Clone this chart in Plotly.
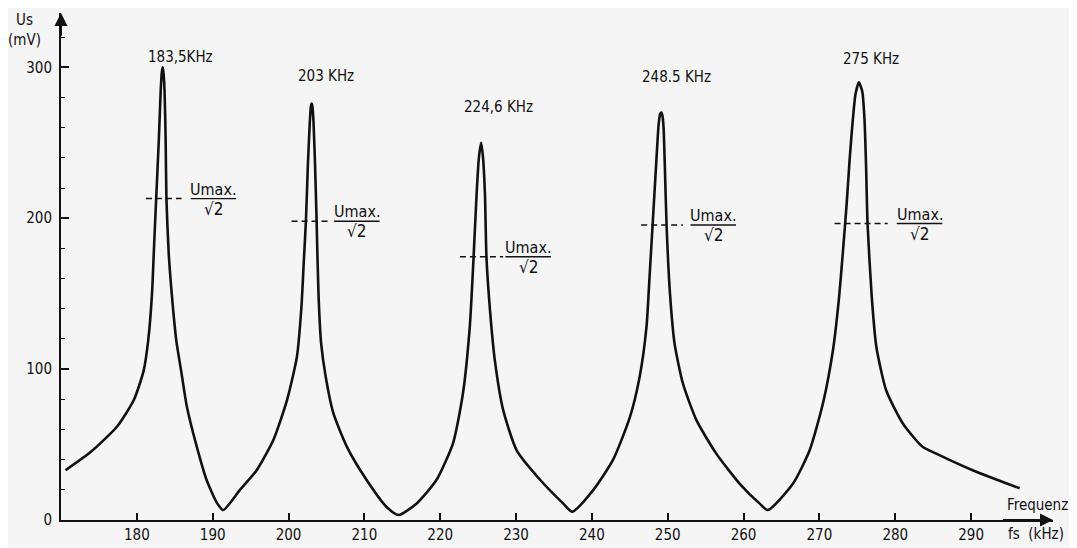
import plotly.graph_objects as go

# ---- data ----
freq_khz = [
    170.6, 173.9, 177.4, 179.6, 180.9, 181.5, 182.0, 182.3, 182.55, 182.9, 183.15, 183.3, 183.4,
    183.5, 183.65, 183.8, 183.9, 184.2, 184.6, 185.2, 185.9, 186.6, 187.9, 189.2, 190.6, 191.4,
    193.6, 195.8, 198.0, 199.8, 201.1, 201.7, 202.0, 202.3, 202.55, 202.8, 202.95, 203.05,
    203.15, 203.3, 203.5, 203.7, 203.95, 204.3, 204.9, 205.9, 207.7, 210.3, 212.9, 214.5,
    216.9, 219.5, 221.7, 223.0, 223.9, 224.4, 224.8, 225.1, 225.4, 225.65, 225.9, 226.1,
    226.6, 227.2, 228.3, 230.1, 233.2, 236.2, 237.4,
    240.2, 242.8, 245.0, 246.3, 247.2, 247.6, 248.0, 248.5, 248.8, 249.0, 249.15, 249.3,
    249.45, 249.6, 249.85, 250.3, 250.9, 252.0, 253.8, 256.4, 259.5, 262.1, 263.2,
    266.5, 268.7, 270.5, 271.8, 272.6, 273.15, 273.6, 274.0, 274.4, 274.75, 275.2, 275.65,
    275.95, 276.15, 276.35, 276.9, 277.5, 278.8, 281.0, 283.6, 285.4, 290.2, 296.4,
]
us_mv = [
    33, 45, 62, 79.5, 99, 119, 150, 185, 213, 252, 285, 297, 300,
    297, 285, 252, 213, 177, 150, 119, 97, 75, 48.6, 26.5, 11, 6.6,
    20, 33, 53, 79.5, 108, 141, 170, 199, 235, 263, 274, 276,
    274, 263, 235, 199, 150, 117, 95, 71, 48.5, 26.5, 8.8, 3.3,
    11, 26.5, 51, 84, 128, 174, 216, 240, 250, 240, 216, 174,
    137, 106, 73, 46, 26.5, 11, 5.5,
    20, 40, 68, 95, 128, 161, 195, 238, 262, 269, 270, 268,
    260, 238, 195, 150, 117, 90.5, 66, 44, 24, 11, 6.6,
    24, 46, 78, 113, 148, 181, 210, 240, 265, 282, 290, 284,
    265, 235, 196, 148, 115, 86, 64, 48.5, 44, 33, 21,
]

peak_labels = ["183,5KHz", "203 KHz", "224,6 KHz", "248.5 KHz", "275 KHz"]

# half-power (Umax/sqrt2) marker lines: start, end, level
half_x0 = [181.2, 200.4, 222.6, 246.5, 272.0]
half_x1 = [185.9, 205.3, 228.3, 252.0, 279.0]
half_lvl = [213, 198, 174.5, 195.5, 196.5]

x_ticks = [180, 190, 200, 210, 220, 230, 240, 250, 260, 270, 280, 290]
y_ticks = [0, 100, 200, 300]

# ---- layout-only positions ----
peak_label_pos = [(185.7, 307), (205.0, 294.5), (227.7, 273.5), (251.1, 293.5), (276.8, 305.5)]
frac_label_x = [190.1, 209.0, 231.6, 256.0, 283.2]
FRAC_HALF = 3.0

FONT = "DejaVu Sans Condensed, DejaVu Sans, sans-serif"
INK = "#111111"

fig = go.Figure()

fig.add_trace(go.Scatter(
    x=freq_khz, y=us_mv, mode="lines",
    line=dict(color=INK, width=2.6, shape="spline", smoothing=0.6),
    hoverinfo="skip", showlegend=False,
))

for x0, x1, lv in zip(half_x0, half_x1, half_lvl):
    fig.add_trace(go.Scatter(
        x=[x0, x1], y=[lv, lv], mode="lines",
        line=dict(color=INK, width=1.5, dash="6px,4px"),
        hoverinfo="skip", showlegend=False,
    ))

annotations = []
for (lx, ly), txt in zip(peak_label_pos, peak_labels):
    annotations.append(dict(x=lx, y=ly, xref="x", yref="y", text=txt, showarrow=False,
                            xanchor="center", yanchor="middle",
                            font=dict(family=FONT, size=15, color=INK)))

for fx, lv in zip(frac_label_x, half_lvl):
    fig.add_trace(go.Scatter(
        x=[fx - FRAC_HALF, fx + FRAC_HALF], y=[lv, lv], mode="lines",
        line=dict(color=INK, width=1.4), hoverinfo="skip", showlegend=False,
    ))
    annotations.append(dict(x=fx, y=lv, xref="x", yref="y", text="Umax.", showarrow=False,
                            xanchor="center", yanchor="bottom", yshift=-2,
                            font=dict(family=FONT, size=16, color=INK)))
    annotations.append(dict(x=fx, y=lv, xref="x", yref="y", text="√2", showarrow=False,
                            xanchor="center", yanchor="top", yshift=2,
                            font=dict(family=FONT, size=17, color=INK)))

# axis arrow heads
annotations.append(dict(x=300.8, y=0, ax=294, ay=0, xref="x", yref="y", axref="x", ayref="y",
                        text="", showarrow=True, arrowhead=2, arrowsize=1.3, arrowwidth=2,
                        arrowcolor=INK, standoff=0))
annotations.append(dict(x=170, y=336, ax=170, ay=320, xref="x", yref="y", axref="x", ayref="y",
                        text="", showarrow=True, arrowhead=2, arrowsize=1.3, arrowwidth=2,
                        arrowcolor=INK, standoff=0))

# axis titles (paper coords; plot area spans px 61..1053 x 13..520 on screen)
annotations.append(dict(x=-0.037, y=0.987, xref="paper", yref="paper", text="Us",
                        showarrow=False, xanchor="center", yanchor="middle",
                        font=dict(family=FONT, size=15, color=INK)))
annotations.append(dict(x=-0.037, y=0.946, xref="paper", yref="paper", text="(mV)",
                        showarrow=False, xanchor="center", yanchor="middle",
                        font=dict(family=FONT, size=15, color=INK)))
annotations.append(dict(x=0.984, y=0.029, xref="paper", yref="paper", text="Frequenz",
                        showarrow=False, xanchor="center", yanchor="middle",
                        font=dict(family=FONT, size=15, color=INK)))
annotations.append(dict(x=0.983, y=-0.028, xref="paper", yref="paper", text="fs  (kHz)",
                        showarrow=False, xanchor="center", yanchor="middle",
                        font=dict(family=FONT, size=15, color=INK)))

# page body has an 8px margin: size the figure so it fits the 1077x548 window
fig.update_layout(
    width=1069, height=540,
    margin=dict(l=53, r=24, t=5, b=28),
    paper_bgcolor="#f5f5f5", plot_bgcolor="#f5f5f5",
    showlegend=False,
    annotations=annotations,
    font=dict(family=FONT, size=15, color=INK),
    xaxis=dict(
        range=[170, 300.8], tickvals=x_ticks, ticktext=[str(v) for v in x_ticks],
        ticks="inside", ticklen=7, tickwidth=1.6, tickcolor=INK,
        showline=True, linecolor=INK, linewidth=2, showgrid=False, zeroline=False,
        tickfont=dict(family=FONT, size=15, color=INK), fixedrange=True,
    ),
    yaxis=dict(
        range=[0, 336], tickvals=y_ticks, ticktext=[str(v) for v in y_ticks],
        ticks="inside", ticklen=8, tickwidth=1.6, tickcolor=INK,
        minor=dict(dtick=20, tick0=0, ticks="inside", ticklen=4, tickwidth=1.3, tickcolor=INK),
        showline=True, linecolor=INK, linewidth=2, showgrid=False, zeroline=False,
        tickfont=dict(family=FONT, size=15, color=INK), ticklabelstandoff=4, fixedrange=True,
    ),
)

fig.write_html("out.html")
